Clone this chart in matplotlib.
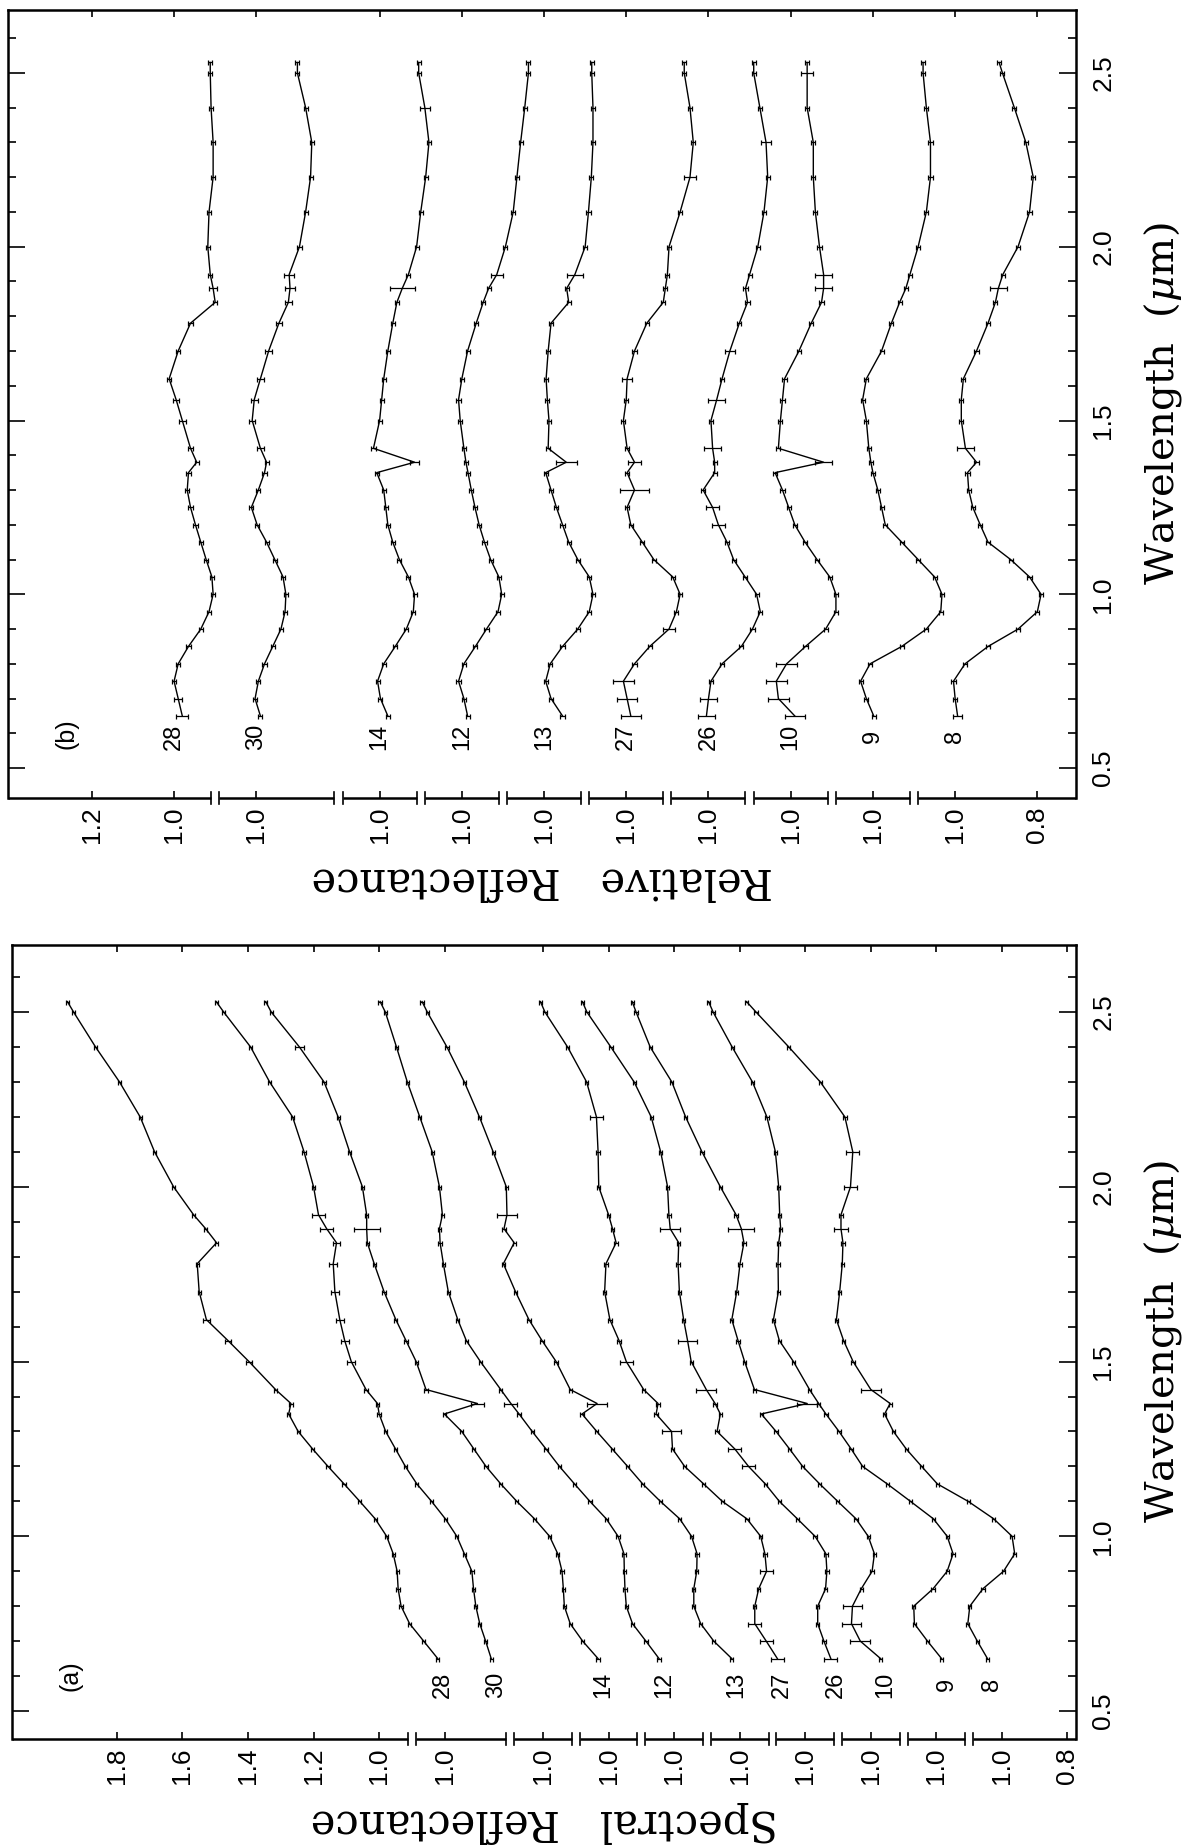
# Reflectance spectra of the samples, drawn the way the page shows them (turned on its side)
# (a) spectral reflectance, (b) relative reflectance, curves stacked with offsets

import matplotlib
matplotlib.use("Agg")
import matplotlib.pyplot as plt
import numpy as np
from matplotlib.ticker import MultipleLocator
from matplotlib.transforms import blended_transform_factory

plt.rcParams['font.family'] = ['Liberation Sans', 'DejaVu Sans']
plt.rcParams['mathtext.fontset'] = 'dejavuserif'

samples = ['28', '30', '14', '12', '13', '27', '26', '10', '9', '8']
offsets = [0.0, -0.2, -0.5, -0.7, -0.9, -1.1, -1.3, -1.5, -1.7, -1.9]
breaks = [0.9, 0.6, 0.4, 0.2, 0.0, -0.2, -0.4, -0.6, -0.8]

wl = [0.65, 0.70, 0.75, 0.80, 0.85, 0.90, 0.95, 1.00, 1.05, 1.10, 1.15, 1.20, 1.25, 1.30,
      1.35, 1.38, 1.42, 1.50, 1.56, 1.62, 1.70, 1.78, 1.84, 1.88, 1.92, 2.00, 2.10, 2.20,
      2.30, 2.40, 2.50, 2.53]

# panel (a): spectral reflectance
a28 = [0.821, 0.864, 0.907, 0.933, 0.942, 0.945, 0.957, 0.977, 1.012, 1.059, 1.107, 1.156, 1.203, 1.247, 1.276, 1.269, 1.316, 1.397, 1.461, 1.527, 1.549, 1.555, 1.496, 1.529, 1.566, 1.627, 1.685, 1.729, 1.792, 1.865, 1.932, 1.951]
a30 = [0.858, 0.875, 0.893, 0.905, 0.912, 0.917, 0.940, 0.963, 0.998, 1.040, 1.085, 1.120, 1.150, 1.180, 1.200, 1.205, 1.240, 1.285, 1.305, 1.320, 1.335, 1.340, 1.330, 1.360, 1.385, 1.400, 1.429, 1.464, 1.534, 1.592, 1.674, 1.697]
a14 = [0.832, 0.879, 0.917, 0.935, 0.938, 0.942, 0.955, 0.980, 1.026, 1.080, 1.129, 1.174, 1.211, 1.248, 1.301, 1.200, 1.357, 1.387, 1.418, 1.449, 1.485, 1.515, 1.536, 1.538, 1.538, 1.551, 1.590, 1.625, 1.668, 1.743, 1.829, 1.846]
a12 = [0.846, 0.886, 0.927, 0.946, 0.950, 0.952, 0.953, 0.971, 1.007, 1.057, 1.104, 1.150, 1.191, 1.233, 1.273, 1.298, 1.329, 1.391, 1.434, 1.460, 1.489, 1.504, 1.514, 1.516, 1.507, 1.516, 1.538, 1.576, 1.614, 1.647, 1.681, 1.697]
a13 = [0.824, 0.879, 0.919, 0.940, 0.940, 0.931, 0.930, 0.947, 0.983, 1.042, 1.096, 1.142, 1.189, 1.236, 1.281, 1.235, 1.317, 1.360, 1.403, 1.443, 1.484, 1.521, 1.488, 1.519, 1.510, 1.512, 1.552, 1.594, 1.640, 1.693, 1.753, 1.769]
a27 = [0.885, 0.919, 0.954, 0.954, 0.942, 0.918, 0.923, 0.936, 0.978, 1.053, 1.110, 1.168, 1.205, 1.208, 1.255, 1.249, 1.293, 1.346, 1.368, 1.396, 1.412, 1.408, 1.377, 1.388, 1.400, 1.430, 1.432, 1.437, 1.467, 1.525, 1.594, 1.608]
a26 = [0.922, 0.943, 0.962, 0.962, 0.938, 0.934, 0.937, 0.970, 1.024, 1.079, 1.122, 1.173, 1.215, 1.269, 1.259, 1.275, 1.302, 1.348, 1.359, 1.371, 1.384, 1.388, 1.386, 1.412, 1.416, 1.420, 1.441, 1.470, 1.522, 1.593, 1.666, 1.680]
a10 = [0.970, 1.032, 1.059, 1.056, 1.029, 0.996, 0.989, 1.008, 1.045, 1.101, 1.156, 1.208, 1.248, 1.289, 1.334, 1.194, 1.355, 1.385, 1.405, 1.424, 1.409, 1.399, 1.387, 1.395, 1.411, 1.459, 1.515, 1.565, 1.607, 1.673, 1.716, 1.728]
a9 = [0.984, 1.027, 1.067, 1.069, 1.010, 0.967, 0.949, 0.967, 1.009, 1.079, 1.150, 1.225, 1.260, 1.297, 1.337, 1.359, 1.387, 1.436, 1.479, 1.497, 1.482, 1.483, 1.481, 1.475, 1.478, 1.481, 1.491, 1.517, 1.561, 1.623, 1.681, 1.695]
a8 = [1.044, 1.075, 1.104, 1.098, 1.058, 0.995, 0.961, 0.969, 1.025, 1.103, 1.197, 1.245, 1.292, 1.331, 1.358, 1.341, 1.400, 1.454, 1.483, 1.505, 1.495, 1.487, 1.485, 1.491, 1.491, 1.462, 1.455, 1.479, 1.554, 1.650, 1.750, 1.779]

# panel (b): relative reflectance
b28 = [0.98, 0.99, 1.00, 0.99, 0.965, 0.935, 0.915, 0.905, 0.908, 0.922, 0.935, 0.948, 0.96, 0.968, 0.965, 0.945, 0.96, 0.98, 0.995, 1.012, 0.99, 0.96, 0.90, 0.905, 0.912, 0.918, 0.915, 0.905, 0.905, 0.91, 0.912, 0.912]
b30 = [0.99, 1.003, 0.995, 0.98, 0.96, 0.94, 0.93, 0.928, 0.935, 0.955, 0.975, 0.998, 1.012, 0.995, 0.98, 0.975, 0.99, 1.01, 1.005, 0.99, 0.97, 0.945, 0.922, 0.918, 0.92, 0.895, 0.88, 0.868, 0.865, 0.88, 0.90, 0.90]
b14 = [0.98, 0.998, 1.005, 0.99, 0.962, 0.935, 0.918, 0.915, 0.93, 0.952, 0.968, 0.98, 0.985, 0.99, 1.007, 0.915, 1.015, 1.0, 0.995, 0.99, 0.98, 0.968, 0.958, 0.945, 0.93, 0.91, 0.90, 0.888, 0.88, 0.89, 0.905, 0.905]
b12 = [0.986, 0.995, 1.008, 0.995, 0.967, 0.94, 0.912, 0.903, 0.91, 0.93, 0.945, 0.958, 0.968, 0.977, 0.985, 0.99, 0.995, 1.004, 1.008, 1.0, 0.986, 0.965, 0.948, 0.935, 0.915, 0.894, 0.875, 0.866, 0.857, 0.847, 0.838, 0.838]
b13 = [0.955, 0.983, 0.996, 0.985, 0.955, 0.918, 0.89, 0.881, 0.89, 0.918, 0.94, 0.955, 0.97, 0.983, 0.996, 0.946, 0.99, 0.988, 0.992, 0.995, 0.99, 0.983, 0.94, 0.945, 0.925, 0.90, 0.892, 0.885, 0.881, 0.881, 0.884, 0.884]
b27 = [0.989, 0.998, 1.007, 0.98, 0.943, 0.896, 0.878, 0.869, 0.887, 0.933, 0.961, 0.989, 0.998, 0.98, 0.998, 0.98, 0.998, 1.007, 1.0, 0.998, 0.98, 0.95, 0.91, 0.905, 0.90, 0.896, 0.869, 0.845, 0.837, 0.845, 0.859, 0.859]
b26 = [1.005, 1.0, 0.994, 0.967, 0.92, 0.893, 0.874, 0.883, 0.911, 0.939, 0.955, 0.976, 0.99, 1.013, 0.985, 0.985, 0.99, 0.994, 0.98, 0.967, 0.948, 0.925, 0.905, 0.91, 0.90, 0.88, 0.865, 0.856, 0.86, 0.875, 0.89, 0.89]
b10 = [0.99, 1.03, 1.035, 1.01, 0.964, 0.915, 0.89, 0.89, 0.905, 0.936, 0.965, 0.99, 1.005, 1.02, 1.038, 0.92, 1.03, 1.025, 1.02, 1.015, 0.98, 0.95, 0.925, 0.92, 0.92, 0.93, 0.94, 0.945, 0.945, 0.96, 0.96, 0.96]
b9 = [0.998, 1.016, 1.03, 1.007, 0.93, 0.87, 0.835, 0.832, 0.85, 0.89, 0.93, 0.97, 0.979, 0.988, 1.0, 1.005, 1.01, 1.016, 1.025, 1.016, 0.979, 0.955, 0.935, 0.92, 0.91, 0.89, 0.87, 0.86, 0.86, 0.87, 0.878, 0.878]
b8 = [0.994, 1.0, 1.004, 0.976, 0.92, 0.847, 0.80, 0.791, 0.819, 0.865, 0.92, 0.939, 0.957, 0.967, 0.97, 0.948, 0.975, 0.985, 0.985, 0.98, 0.948, 0.92, 0.902, 0.895, 0.884, 0.847, 0.819, 0.81, 0.828, 0.856, 0.885, 0.893]

# the larger error bars (wavelength: half width), everything else gets a small one
err_a = [{1.50: 0.01, 1.56: 0.01, 1.62: 0.01},
         {1.50: 0.012, 1.56: 0.012, 1.62: 0.012, 1.70: 0.012, 1.78: 0.012, 1.84: 0.012, 1.88: 0.02, 1.92: 0.02},
         {1.38: 0.02, 1.88: 0.04, 2.40: 0.015},
         {1.38: 0.02},
         {1.38: 0.03, 1.92: 0.03},
         {0.65: 0.02, 0.70: 0.02, 0.75: 0.02, 0.90: 0.02, 1.30: 0.03, 1.50: 0.02, 2.20: 0.02},
         {0.65: 0.02, 1.20: 0.02, 1.25: 0.02, 1.42: 0.03, 1.56: 0.03, 1.88: 0.03},
         {0.70: 0.03, 0.75: 0.03, 0.80: 0.03, 1.38: 0.03, 1.88: 0.04},
         {},
         {1.42: 0.03, 1.88: 0.02, 2.00: 0.02, 2.10: 0.02}]
err_b = [{0.65: 0.015, 0.70: 0.01, 1.50: 0.008, 1.56: 0.008, 1.88: 0.01},
         {1.42: 0.008, 1.50: 0.008, 1.56: 0.008, 1.62: 0.008, 1.70: 0.008, 1.78: 0.008, 1.84: 0.008, 1.88: 0.012, 1.92: 0.012},
         {1.38: 0.01, 1.88: 0.03, 2.40: 0.012},
         {1.92: 0.015},
         {1.38: 0.025, 1.92: 0.02},
         {0.65: 0.025, 0.70: 0.025, 0.75: 0.025, 0.90: 0.015, 1.30: 0.035, 1.38: 0.015, 1.62: 0.012, 2.20: 0.015},
         {0.65: 0.02, 0.70: 0.02, 1.20: 0.015, 1.25: 0.015, 1.42: 0.02, 1.56: 0.02, 1.70: 0.012, 2.30: 0.012},
         {0.65: 0.025, 0.70: 0.025, 0.75: 0.025, 0.80: 0.025, 1.38: 0.02, 1.88: 0.02, 1.92: 0.02, 2.50: 0.015},
         {},
         {0.65: 0.01, 1.42: 0.02, 1.88: 0.02}]

ticks_a = [1.8, 1.6, 1.4, 1.2] + [1.0 + o for o in offsets] + [0.8 + offsets[-1]]
labels_a = ['1.8', '1.6', '1.4', '1.2'] + ['1.0'] * len(offsets) + ['0.8']
ticks_b = [1.2] + [1.0 + o for o in offsets] + [0.8 + offsets[-1]]
labels_b = ['1.2'] + ['1.0'] * len(offsets) + ['0.8']

W, H = 1189, 1845
fig = plt.figure(figsize=(W / 100, H / 100), dpi=100)
ax_b = fig.add_axes([8 / W, 1 - 798 / H, 1068 / W, 788 / H])
ax_a = fig.add_axes([12 / W, 1 - 1739 / H, 1064 / W, 794 / H])


def draw_panel(ax, curves, errs, lab_x, lab_lam, ticks, labels, xlim, ylim, gap, tag, xlabel):
    for name, vals, off, err, lx in zip(samples, curves, offsets, errs, lab_x):
        x = np.array(vals) + off
        xe = [err.get(w, 0.005) for w in wl]
        ax.errorbar(x, wl, xerr=xe, color='black', lw=1.0, elinewidth=0.9,
                    capsize=1.8, capthick=0.9)
        ax.text(lx, lab_lam, name, rotation=90, ha='center', va='center', fontsize=17)

    ax.set_xlim(*xlim)
    ax.set_ylim(*ylim)

    ax.set_xticks(ticks)
    ax.set_xticklabels(labels, rotation=90, ha='center', va='top', fontsize=19)
    ax.tick_params(axis='x', direction='in', length=5, width=1.2, top=True, bottom=True, pad=6)

    ax.set_yticks([0.5, 1.0, 1.5, 2.0, 2.5])
    ax.set_yticklabels(['0.5', '1.0', '1.5', '2.0', '2.5'], rotation=90, va='center', fontsize=19)
    ax.yaxis.set_minor_locator(MultipleLocator(0.1))
    ax.tick_params(axis='y', which='both', direction='in', left=True, right=True,
                   labelleft=False, labelright=True, width=1.2)
    ax.tick_params(axis='y', which='major', length=12, pad=11)
    ax.tick_params(axis='y', which='minor', length=6)

    for side in ['left', 'right', 'top']:
        ax.spines[side].set_linewidth(1.8)
    ax.spines['bottom'].set_visible(False)

    # broken bottom axis: one piece per spectrum
    tr = blended_transform_factory(ax.transData, ax.transAxes)
    edges = [xlim[0]]
    for b in breaks:
        edges += [b + gap, b - gap]
    edges.append(xlim[1])
    for i in range(0, len(edges), 2):
        ax.plot([edges[i], edges[i + 1]], [0, 0], color='black', lw=1.8,
                transform=tr, clip_on=False, solid_capstyle='butt')
    for b in breaks:
        for e in (b + gap, b - gap):
            ax.plot([e, e], [-0.008, 0.008], color='black', lw=1.2, transform=tr, clip_on=False)

    ax.text(0.055, 0.6, tag, transform=blended_transform_factory(ax.transAxes, ax.transData),
            rotation=90, ha='center', va='center', fontsize=18)

    ax.set_xlabel(xlabel, family='DejaVu Serif', fontsize=30, rotation=180)
    ax.xaxis.label.set_va('center')
    ax.xaxis.label.set_ha('center')
    ax.yaxis.set_label_position('right')
    ax.set_ylabel('Wavelength  ($\\mu$m)', family='DejaVu Serif', fontsize=29, rotation=90)
    ax.yaxis.label.set_va('center')
    ax.yaxis.label.set_ha('center')


curves_a = [a28, a30, a14, a12, a13, a27, a26, a10, a9, a8]
curves_b = [b28, b30, b14, b12, b13, b27, b26, b10, b9, b8]

lab_a = [c[0] + o - 0.015 for c, o in zip(curves_a, offsets)]
lab_b = [1.0 + o for o in offsets]

draw_panel(ax_b, curves_b, err_b, lab_b, 0.59, ticks_b, labels_b, (1.404, -1.194),
           (0.414, 2.681), 0.01, '(b)', 'Relative   Reflectance')
draw_panel(ax_a, curves_a, err_a, lab_a, 0.575, ticks_a, labels_a, (2.12, -1.126),
           (0.42, 2.692), 0.012, '(a)', 'Spectral   Reflectance')

ax_b.xaxis.set_label_coords(0.5, (798 - 880) / 788)
ax_a.xaxis.set_label_coords(0.5, (1739 - 1822) / 794)
ax_b.yaxis.set_label_coords((1163 - 8) / 1068, 0.5)
ax_a.yaxis.set_label_coords((1163 - 12) / 1064, 0.5)

fig.savefig('out.png', dpi=100)
